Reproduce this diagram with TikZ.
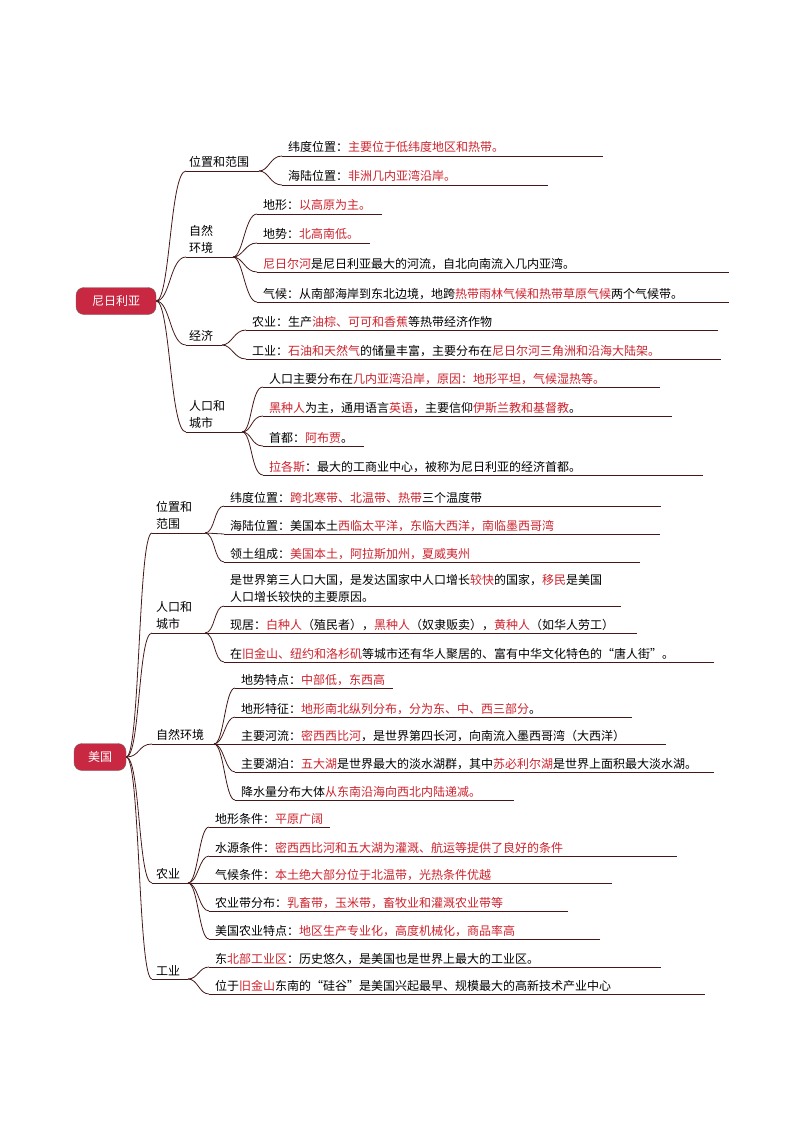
\documentclass[tikz,border=0pt]{standalone}
\usepackage{fontspec}
\setmainfont{Noto Sans CJK SC}
\usepackage{tikz}
\usetikzlibrary{calc,positioning}
\definecolor{hlred}{RGB}{205,35,45}
\definecolor{linec}{RGB}{70,25,25}
\definecolor{rootred}{RGB}{200,40,65}
\newcommand{\hl}[1]{\textcolor{hlred}{#1}}
% leaf: name, x, y of underline, end x, text
\newcommand{\leaf}[5]{\coordinate (#1) at (#2,#3); \draw[uline] (#1) -- (#4,#3);
  \node[txt] (#1t) at ($(#1)+(6,-4)$) {#5};}
% category: name, y of underline, end x, text
\newcommand{\cat}[4]{\coordinate (#1) at (186,#2); \coordinate (#1e) at (#3,#2);
  \draw[uline] (#1) -- (#1e); \node[cattxt] (#1t) at ($(#1)+(3,-3)$) {#4};}

\begin{document}
\begin{tikzpicture}[x=1pt,y=-1pt]

\tikzset{uline/.style={draw=linec,line width=0.9pt},
branch/.style={draw=linec,line width=0.8pt},
txt/.style={anchor=base west,inner sep=0pt,font=\fontsize{12}{14}\selectfont},
cattxt/.style={anchor=south west,inner sep=0pt,align=left,font=\fontsize{12}{17}\selectfont},
root/.style={fill=rootred,draw=linec!70,rounded corners=8pt,text=white,minimum height=27pt,inner sep=0pt,font=\fontsize{12}{14}\selectfont}}

\useasboundingbox (0,0) rectangle (794,1123);

% ---------------- Nigeria
\node[root,minimum width=80pt] (ng) at (116,301) {尼日利亚};

\cat{ng1}{171}{259}{位置和范围}
\leaf{ng11}{282}{156}{603}{纬度位置：\hl{主要位于低纬度地区和热带。}}
\leaf{ng12}{282}{185}{548}{海陆位置：\hl{非洲几内亚湾沿岸。}}

\cat{ng2}{257}{233}{自然\\环境}
\leaf{ng21}{257}{214}{382}{地形：\hl{以高原为主。}}
\leaf{ng22}{257}{243}{370}{地势：\hl{北高南低。}}
\leaf{ng23}{257}{272}{729}{\hl{尼日尔河}是尼日利亚最大的河流，自北向南流入几内亚湾。}
\leaf{ng24}{257}{302}{729}{气候：从南部海岸到东北边境，地跨\hl{热带雨林气候和热带草原气候}两个气候带。}

\cat{ng3}{345}{222}{经济}
\leaf{ng31}{246}{330}{718}{农业：生产\hl{油棕、可可和香蕉}等热带经济作物}
\leaf{ng32}{246}{359}{721}{工业：\hl{石油和天然气}的储量丰富，主要分布在\hl{尼日尔河三角洲和沿海大陆架。}}

\cat{ng4}{432}{242}{人口和\\城市}
\leaf{ng41}{263}{387}{660}{人口主要分布在\hl{几内亚湾沿岸，原因：地形平坦，气候湿热等。}}
\leaf{ng42}{263}{416}{672}{\hl{黑种人}为主，通用语言\hl{英语}，主要信仰\hl{伊斯兰教和基督教}。}
\leaf{ng43}{263}{446}{364}{首都：\hl{阿布贾}。}
\leaf{ng44}{263}{475}{703}{\hl{拉各斯}：最大的工商业中心，被称为尼日利亚的经济首都。}

% Branches
\foreach \c in {ng1,ng2,ng3,ng4} \draw[branch] (ng.east) .. controls +(14,0) and +(-16,0) .. (\c);
\foreach \l in {ng11,ng12} \draw[branch] (ng1e) .. controls +(10,0) and +(-12,0) .. (\l);
\foreach \l in {ng21,ng22,ng23,ng24} \draw[branch] (ng2e) .. controls +(10,0) and +(-12,0) .. (\l);
\foreach \l in {ng31,ng32} \draw[branch] (ng3e) .. controls +(10,0) and +(-12,0) .. (\l);
\foreach \l in {ng41,ng42,ng43,ng44} \draw[branch] (ng4e) .. controls +(10,0) and +(-12,0) .. (\l);

% ---------------- USA
\node[root,minimum width=52pt] (us) at (100,757) {美国};

\renewcommand{\cat}[4]{\coordinate (#1) at (152,#2); \coordinate (#1e) at (#3,#2);
  \draw[uline] (#1) -- (#1e); \node[cattxt] (#1t) at ($(#1)+(4,-3)$) {#4};}

\cat{us1}{533}{205}{位置和\\范围}
\leaf{us11}{224}{506}{661}{纬度位置：\hl{跨北寒带、北温带、热带}三个温度带}
\leaf{us12}{224}{534}{660}{海陆位置：美国本土\hl{西临太平洋，东临大西洋，南临墨西哥湾}}
\leaf{us13}{224}{562}{640}{领土组成：\hl{美国本土，阿拉斯加州，夏威夷州}}

\cat{us2}{633}{205}{人口和\\城市}
\coordinate (us21) at (224,606); \draw[uline] (us21) -- (621,606);
\node[txt,anchor=south west,align=left,font=\fontsize{12}{17}\selectfont] (us21t) at ($(us21)+(6,-3)$)
  {是世界第三人口大国，是发达国家中人口增长\hl{较快}的国家，\hl{移民}是美国\\人口增长较快的主要原因。};
\leaf{us22}{224}{633}{637}{现居：\hl{白种人}（殖民者），\hl{黑种人}（奴隶贩卖），\hl{黄种人}（如华人劳工）}
\leaf{us23}{224}{662}{714}{在\hl{旧金山、纽约和洛杉矶}等城市还有华人聚居的、富有中华文化特色的“唐人街”。}

\cat{us3}{744}{214}{自然环境}
\leaf{us31}{235}{688}{393}{地势特点：\hl{中部低，东西高}}
\leaf{us32}{235}{717}{632}{地形特征：\hl{地形南北纵列分布，分为东、中、西三部分}。}
\leaf{us33}{235}{744}{666}{主要河流：\hl{密西西比河}，是世界第四长河，向南流入墨西哥湾（大西洋）}
\leaf{us34}{235}{772}{714}{主要湖泊：\hl{五大湖}是世界最大的淡水湖群，其中\hl{苏必利尔湖}是世界上面积最大淡水湖。}
\leaf{us35}{235}{800}{514}{降水量分布大体\hl{从东南沿海向西北内陆递减。}}

\cat{us4}{883}{188}{农业}
\leaf{us41}{209}{827}{330}{地形条件：\hl{平原广阔}}
\leaf{us42}{209}{856}{677}{水源条件：\hl{密西西比河和五大湖为灌溉、航运等提供了良好的条件}}
\leaf{us43}{209}{883}{612}{气候条件：\hl{本土绝大部分位于北温带，光热条件优越}}
\leaf{us44}{209}{911}{568}{农业带分布：\hl{乳畜带，玉米带，畜牧业和灌溉农业带等}}
\leaf{us45}{209}{939}{600}{美国农业特点：\hl{地区生产专业化，高度机械化，商品率高}}

\cat{us5}{979}{188}{工业}
\leaf{us51}{209}{967}{661}{东\hl{北部工业区}：历史悠久，是美国也是世界上最大的工业区。}
\leaf{us52}{209}{994}{705}{位于\hl{旧金山}东南的“硅谷”是美国兴起最早、规模最大的高新技术产业中心}

% Branches
\foreach \c in {us1,us2,us3,us4,us5} \draw[branch] (us.east) .. controls +(14,0) and +(-14,0) .. (\c);
\foreach \l in {us11,us12,us13} \draw[branch] (us1e) .. controls +(10,0) and +(-10,0) .. (\l);
\foreach \l in {us21,us22,us23} \draw[branch] (us2e) .. controls +(10,0) and +(-10,0) .. (\l);
\foreach \l in {us31,us32,us33,us34,us35} \draw[branch] (us3e) .. controls +(10,0) and +(-10,0) .. (\l);
\foreach \l in {us41,us42,us43,us44,us45} \draw[branch] (us4e) .. controls +(10,0) and +(-10,0) .. (\l);
\foreach \l in {us51,us52} \draw[branch] (us5e) .. controls +(10,0) and +(-10,0) .. (\l);

\end{tikzpicture}
\end{document}
